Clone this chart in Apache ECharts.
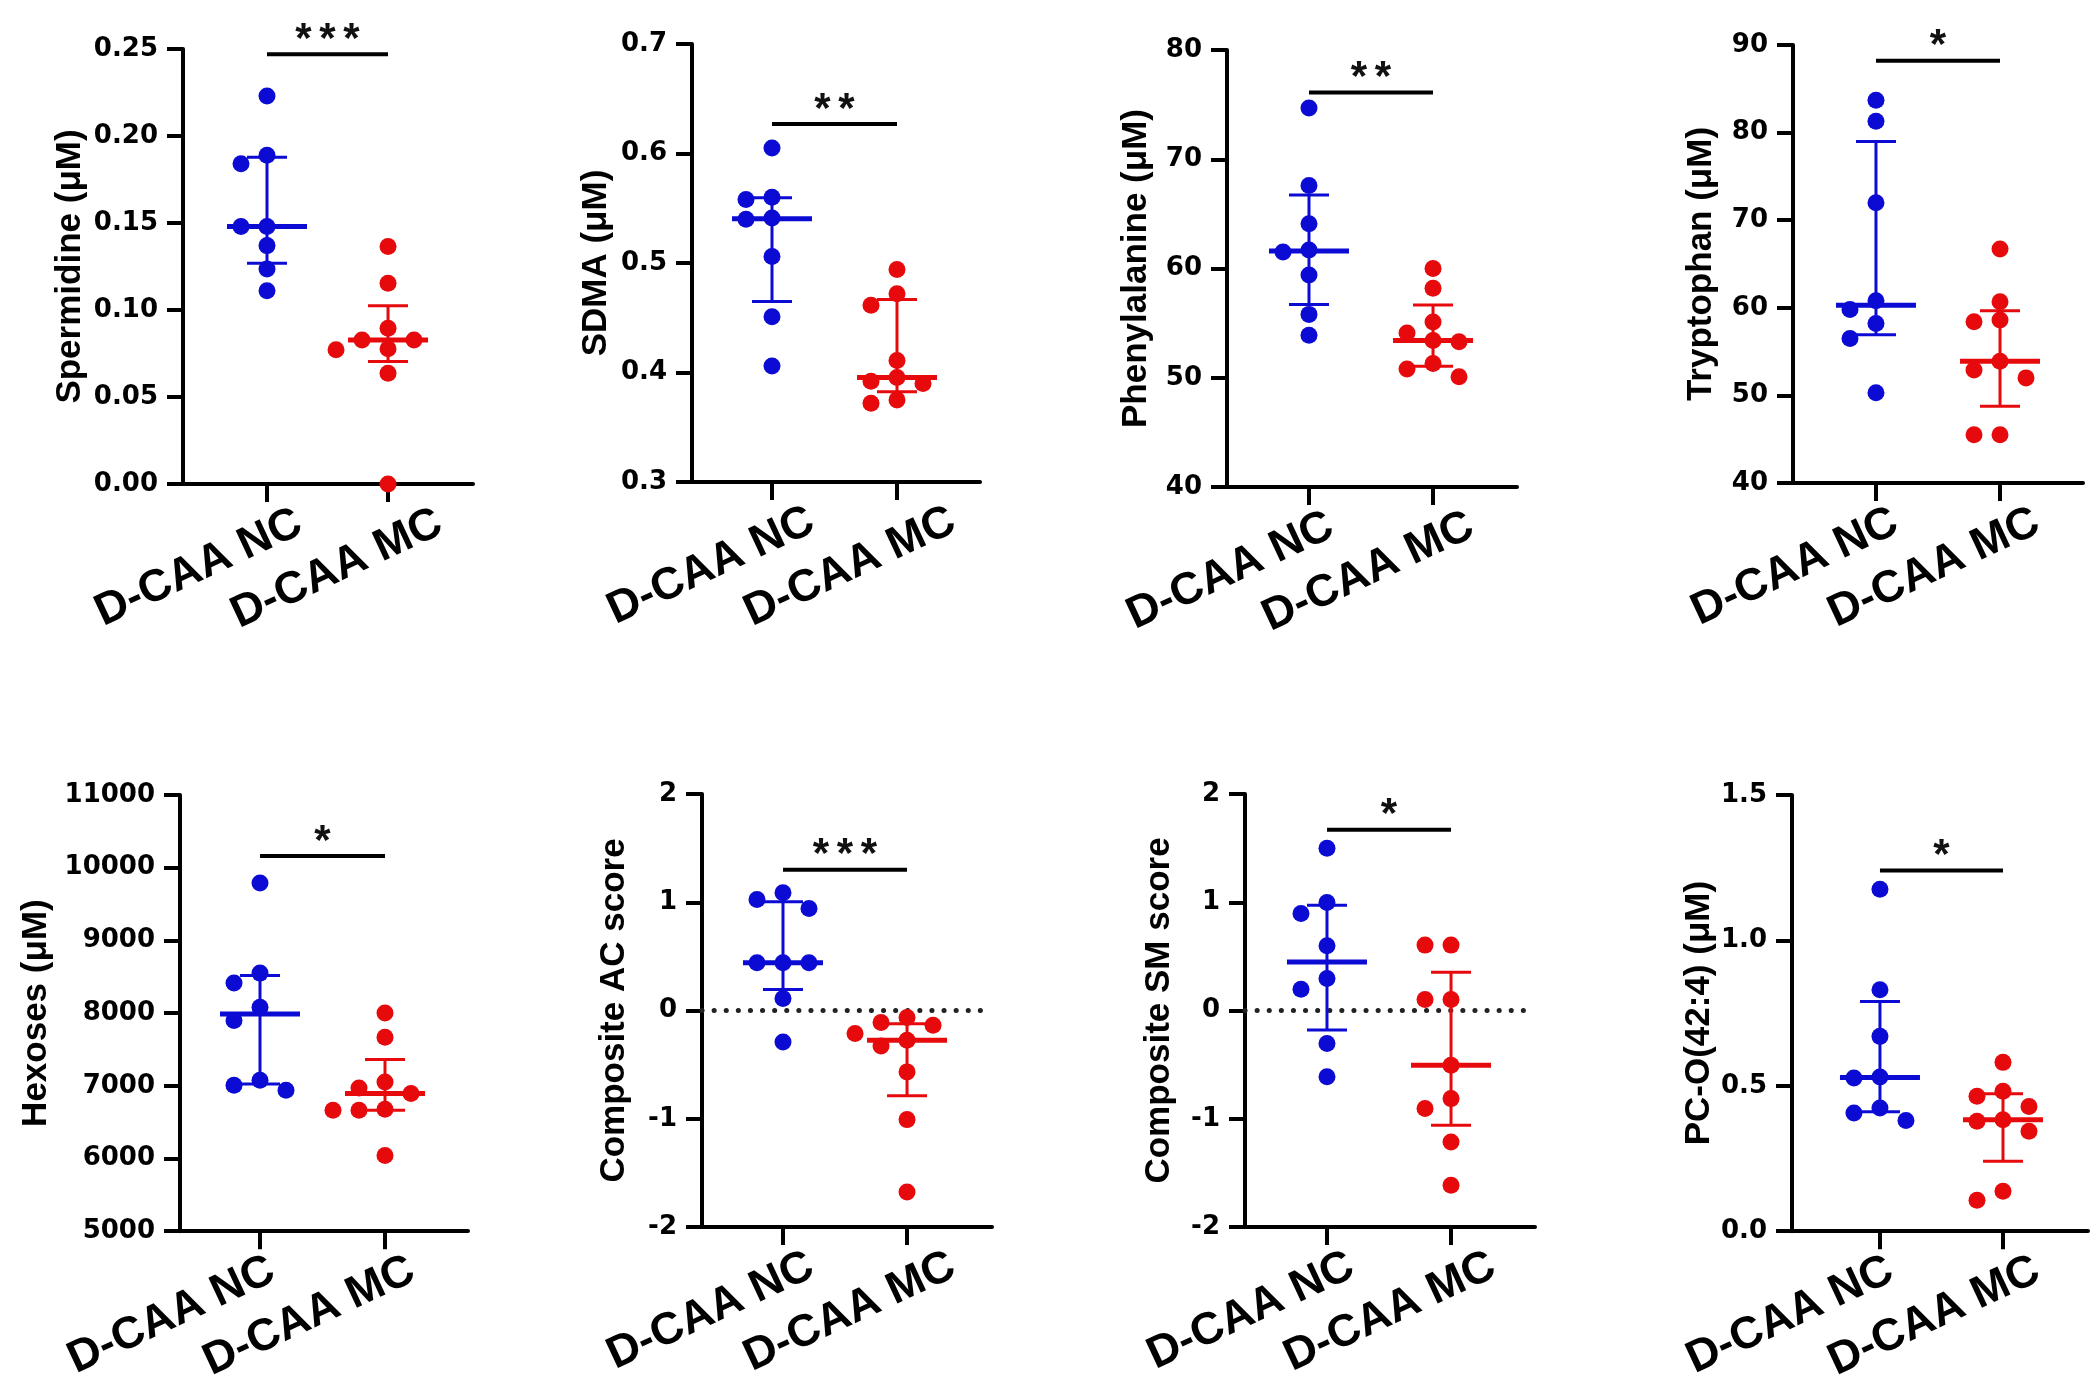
<!DOCTYPE html>
<html><head><meta charset="utf-8">
<script src="https://cdn.jsdelivr.net/npm/echarts@6/dist/echarts.min.js"></script>
<style>html,body{margin:0;padding:0;background:#fff}#c{width:2100px;height:1386px}</style>
</head><body><div id="c"></div>
<script>
// ---------------- data ----------------
const groups = ['D-CAA NC', 'D-CAA MC'];
const yNames = ['Spermidine (μM)', 'SDMA (μM)', 'Phenylalanine (μM)', 'Tryptophan (μM)',
                'Hexoses (μM)', 'Composite AC score', 'Composite SM score', 'PC-O(42:4) (μM)'];
const spermidineNC = [0.223, 0.189, 0.184, 0.148, 0.148, 0.137, 0.1235, 0.111];
const spermidineMC = [0.1365, 0.1154, 0.0895, 0.0828, 0.0828, 0.0777, 0.0771, 0.0636, 0.0];
const sdmaNC = [0.605, 0.560, 0.558, 0.541, 0.540, 0.506, 0.451, 0.406];
const sdmaMC = [0.494, 0.472, 0.4615, 0.411, 0.3954, 0.392, 0.390, 0.375, 0.372];
const pheNC = [74.7, 67.6, 64.1, 61.7, 61.5, 59.4, 55.8, 53.9];
const pheMC = [60.0, 58.2, 55.1, 54.1, 53.4, 53.3, 51.3, 50.8, 50.1];
const trpNC = [83.7, 81.3, 72.0, 60.8, 59.8, 58.2, 56.5, 50.3];
const trpMC = [66.7, 60.7, 58.6, 58.4, 53.9, 52.9, 52.0, 45.5, 45.5];
const hexNC = [9790, 8550, 8413, 8080, 7897, 7076, 7008, 6939];
const hexMC = [8002, 7669, 7053, 6971, 6894, 6679, 6665, 6665, 6040];
const acNC = [1.088, 1.026, 0.943, 0.441, 0.441, 0.441, 0.111, -0.29];
const acMC = [-0.065, -0.111, -0.136, -0.213, -0.274, -0.327, -0.567, -1.008, -1.676];
const smNC = [1.498, 0.998, 0.897, 0.598, 0.296, 0.197, -0.305, -0.613];
const smMC = [0.604, 0.604, 0.102, 0.102, -0.505, -0.814, -0.906, -1.214, -1.615];
const pcoNC = [1.176, 0.830, 0.670, 0.530, 0.527, 0.424, 0.4065, 0.381];
const pcoMC = [0.5806, 0.481, 0.464, 0.429, 0.3836, 0.378, 0.3435, 0.1374, 0.1065];

const ncSets = [spermidineNC, sdmaNC, pheNC, trpNC, hexNC, acNC, smNC, pcoNC];
const mcSets = [spermidineMC, sdmaMC, pheMC, trpMC, hexMC, acMC, smMC, pcoMC];

const yMin = [0, 0.3, 40, 40, 5000, -2, -2, 0];
const yMax = [0.25, 0.7, 80, 90, 11000, 2, 2, 1.5];
const yStep = [0.05, 0.1, 10, 10, 1000, 1, 1, 0.5];
const yDecimals = [2, 1, 0, 0, 0, 0, 0, 1];
const sigLabels = ['***', '**', '**', '*', '*', '***', '*', '*'];
const sigLevel = [0.247, 0.627, 76.1, 88.2, 10160, 1.30, 1.67, 1.24];
const zeroRef = [false, false, false, false, false, true, true, false];

// ---------------- layout (positions / styles) ----------------
const layout = [
  {left: 183, top: 49, width: 290, height: 435, xMin: -0.694, xMax: 1.702, gap: 95, labelAt: [0.27, 1.43]},
  {left: 692, top: 44, width: 288, height: 438, xMin: -0.64, xMax: 1.664, gap: 78, labelAt: [0.32, 1.45]},
  {left: 1227, top: 50, width: 290, height: 437, xMin: -0.661, xMax: 1.677, gap: 73, labelAt: [0.18, 1.31]},
  {left: 1793, top: 45, width: 290, height: 438, xMin: -0.669, xMax: 1.669, gap: 74, labelAt: [0.16, 1.30]},
  {left: 180, top: 795, width: 288, height: 438, xMin: -0.64, xMax: 1.664, gap: 126, labelAt: [0.10, 1.22]},
  {left: 702, top: 794, width: 290, height: 433, xMin: -0.653, xMax: 1.685, gap: 70, labelAt: [0.23, 1.37]},
  {left: 1245, top: 794, width: 290, height: 433, xMin: -0.661, xMax: 1.677, gap: 68, labelAt: [0.20, 1.34]},
  {left: 1792, top: 795, width: 296, height: 437, xMin: -0.715, xMax: 1.691, gap: 75, labelAt: [0.09, 1.28]}
];
const BLUE = '#0b0bd4';
const RED = '#e60a0d';
const DOT = 17;
const SWARM_STEP_PX = 26;

// ---------------- helpers ----------------
function quantile(sorted, p) {
  const n = sorted.length, pos = (n + 1) * p;
  const lo = Math.floor(pos), f = pos - lo;
  if (lo < 1) return sorted[0];
  if (lo >= n) return sorted[n - 1];
  return sorted[lo - 1] + f * (sorted[lo] - sorted[lo - 1]);
}
function stats(vals) {
  const s = vals.slice().sort((a, b) => a - b);
  return [quantile(s, 0.5), quantile(s, 0.25), quantile(s, 0.75)];
}
function swarm(vals, center, pxPerY, stepX) {
  const idx = vals.map((v, i) => i).sort((a, b) => vals[b] - vals[a]);
  const placed = [], out = new Array(vals.length);
  const order = [0, -1, 1, -2, 2, -3, 3];
  idx.forEach(i => {
    const y = vals[i] * pxPerY;
    for (const k of order) {
      if (!placed.some(p => p.k === k && Math.abs(p.y - y) < DOT)) {
        placed.push({k, y});
        out[i] = [center + k * stepX, vals[i]];
        break;
      }
    }
  });
  return out;
}

// ---------------- build option ----------------
const grid = [], xAxis = [], yAxis = [], series = [];
const axisLineStyle = {color: '#000', width: 4};

layout.forEach((L, p) => {
  grid.push({left: L.left, top: L.top, width: L.width, height: L.height});
  xAxis.push({
    type: 'value', gridIndex: p, min: L.xMin, max: L.xMax,
    splitLine: {show: false},
    axisLine: {show: true, lineStyle: axisLineStyle, onZero: false},
    axisTick: {show: true, customValues: [0, 1], length: 18, lineStyle: {color: '#000', width: 4}},
    axisLabel: {
      customValues: L.labelAt, rotate: 25, margin: 37,
      fontSize: 45, fontWeight: 'bold', fontFamily: 'Liberation Sans', color: '#000',
      formatter: v => (v < 0.8 ? groups[0] : groups[1])
    }
  });
  yAxis.push({
    type: 'value', gridIndex: p, min: yMin[p], max: yMax[p], interval: yStep[p],
    splitLine: {show: false},
    axisLine: {show: true, lineStyle: axisLineStyle, onZero: false},
    axisTick: {show: true, length: 16, lineStyle: {color: '#000', width: 4}},
    axisLabel: {
      margin: 25, fontSize: 26, fontWeight: 'bold', fontFamily: 'DejaVu Sans', color: '#000',
      formatter: v => v.toFixed(yDecimals[p])
    },
    name: yNames[p], nameLocation: 'middle', nameGap: L.gap,
    nameTextStyle: {fontSize: 35, fontWeight: 'bold', fontFamily: 'Liberation Sans', color: '#000'}
  });

  const pxPerY = L.height / (yMax[p] - yMin[p]);
  const stepX = SWARM_STEP_PX / (L.width / (L.xMax - L.xMin));
  [[ncSets[p], 0, BLUE], [mcSets[p], 1, RED]].forEach(([vals, center, color]) => {
    const sc = {
      type: 'scatter', xAxisIndex: p, yAxisIndex: p, symbol: 'circle', symbolSize: DOT,
      itemStyle: {color: color, opacity: 1}, z: 3,
      data: swarm(vals, center, pxPerY, stepX)
    };
    if (center === 0 && zeroRef[p]) {
      sc.markLine = {
        silent: true, symbol: 'none', label: {show: false}, z: 1,
        lineStyle: {color: '#222', width: 5, type: [0.1, 12], cap: 'round', opacity: 1},
        emphasis: {disabled: true},
        data: [{yAxis: 0}]
      };
    }
    series.push(sc);
    const st = stats(vals);
    series.push({
      type: 'custom', xAxisIndex: p, yAxisIndex: p, z: 4, silent: true,
      data: [[center, st[0], st[1], st[2]]],
      renderItem: (params, api) => {
        const x = api.value(0);
        const c = api.coord([x, api.value(1)]);
        const a = api.coord([x, api.value(2)]);
        const b = api.coord([x, api.value(3)]);
        const thin = {stroke: color, lineWidth: 3};
        return {type: 'group', children: [
          {type: 'line', shape: {x1: a[0], y1: a[1], x2: b[0], y2: b[1]}, style: thin},
          {type: 'line', shape: {x1: a[0] - 20, y1: a[1], x2: a[0] + 20, y2: a[1]}, style: thin},
          {type: 'line', shape: {x1: b[0] - 20, y1: b[1], x2: b[0] + 20, y2: b[1]}, style: thin},
          {type: 'line', shape: {x1: c[0] - 40, y1: c[1], x2: c[0] + 40, y2: c[1]}, style: {stroke: color, lineWidth: 5}}
        ]};
      }
    });
  });

  // significance bar
  series.push({
    type: 'custom', xAxisIndex: p, yAxisIndex: p, z: 5, silent: true, clip: false,
    data: [[0, 1, sigLevel[p]]],
    renderItem: (params, api) => {
      const s = api.coord([api.value(0), api.value(2)]);
      const e = api.coord([api.value(1), api.value(2)]);
      const stars = sigLabels[p].split('');
      const mid = (s[0] + e[0]) / 2;
      const sp = 24;
      const children = [{type: 'line', shape: {x1: s[0], y1: s[1], x2: e[0], y2: e[1]},
        style: {stroke: '#000', lineWidth: 4}}];
      stars.forEach((ch, i) => {
        children.push({type: 'text', style: {
          text: ch, x: mid + (i - (stars.length - 1) / 2) * sp, y: s[1] - 14,
          textAlign: 'center', textVerticalAlign: 'middle',
          font: 'bold 42px "Liberation Sans"', fill: '#111'
        }});
      });
      return {type: 'group', children};
    }
  });
});

const chart = echarts.init(document.getElementById('c'), null, {renderer: 'canvas'});
chart.setOption({
  animation: false,
  backgroundColor: '#fff',
  textStyle: {fontFamily: 'Liberation Sans'},
  grid, xAxis, yAxis, series
});
</script>
</body></html>
